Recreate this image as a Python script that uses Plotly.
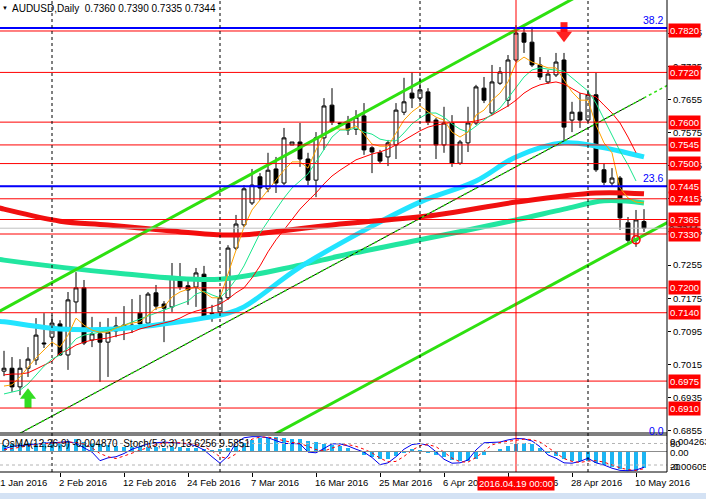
import plotly.graph_objects as go

# AUDUSD daily bars (MT4 feed, includes two short Sunday bars in March)
dates = [
    "2016-01-22", "2016-01-25", "2016-01-26", "2016-01-27", "2016-01-28", "2016-01-29",
    "2016-02-01", "2016-02-02", "2016-02-03", "2016-02-04", "2016-02-05", "2016-02-08",
    "2016-02-09", "2016-02-10", "2016-02-11", "2016-02-12", "2016-02-15", "2016-02-16",
    "2016-02-17", "2016-02-18", "2016-02-19", "2016-02-22", "2016-02-23", "2016-02-24",
    "2016-02-25", "2016-02-26", "2016-02-29", "2016-03-01", "2016-03-02", "2016-03-03",
    "2016-03-04", "2016-03-07", "2016-03-08", "2016-03-09", "2016-03-10", "2016-03-11",
    "2016-03-13", "2016-03-14", "2016-03-15", "2016-03-16", "2016-03-17", "2016-03-18",
    "2016-03-20", "2016-03-21", "2016-03-22", "2016-03-23", "2016-03-24", "2016-03-25",
    "2016-03-28", "2016-03-29", "2016-03-30", "2016-03-31", "2016-04-01", "2016-04-04",
    "2016-04-05", "2016-04-06", "2016-04-07", "2016-04-08", "2016-04-11", "2016-04-12",
    "2016-04-13", "2016-04-14", "2016-04-15", "2016-04-18", "2016-04-19", "2016-04-20",
    "2016-04-21", "2016-04-22", "2016-04-25", "2016-04-26", "2016-04-27", "2016-04-28",
    "2016-04-29", "2016-05-02", "2016-05-03", "2016-05-04", "2016-05-05", "2016-05-06",
    "2016-05-09", "2016-05-10", "2016-05-11",
]
opens = [
    0.6999, 0.7006, 0.6961, 0.7006, 0.7026, 0.7067, 0.7081, 0.7113, 0.7038, 0.7166,
    0.7200, 0.7074, 0.7089, 0.7069, 0.7096, 0.7110, 0.7106, 0.7139, 0.7115, 0.7188,
    0.7161, 0.7154, 0.7224, 0.7205, 0.7202, 0.7233, 0.7137, 0.7142, 0.7176, 0.7296,
    0.7352, 0.7405, 0.7468, 0.7439, 0.7487, 0.7453, 0.7545, 0.7552, 0.7511, 0.7460,
    0.7562, 0.7641, 0.7598, 0.7598, 0.7583, 0.7615, 0.7538, 0.7526, 0.7516, 0.7545,
    0.7624, 0.7670, 0.7658, 0.7673, 0.7605, 0.7545, 0.7598, 0.7501, 0.7550, 0.7598,
    0.7682, 0.7622, 0.7694, 0.7653, 0.7750, 0.7815, 0.7793, 0.7738, 0.7697, 0.7714,
    0.7750, 0.7605, 0.7624, 0.7605, 0.7666, 0.7485, 0.7453, 0.7465, 0.7357, 0.7315,
    0.7360,
]
highs = [
    0.7048, 0.7033, 0.7028, 0.7057, 0.7127, 0.7139, 0.7134, 0.7122, 0.7190, 0.7238,
    0.7219, 0.7130, 0.7118, 0.7127, 0.7130, 0.7156, 0.7173, 0.7183, 0.7190, 0.7207,
    0.7168, 0.7260, 0.7260, 0.7226, 0.7248, 0.7253, 0.7159, 0.7195, 0.7303, 0.7376,
    0.7448, 0.7487, 0.7477, 0.7526, 0.7516, 0.7586, 0.7552, 0.7598, 0.7526, 0.7576,
    0.7658, 0.7682, 0.7600, 0.7615, 0.7629, 0.7646, 0.7542, 0.7533, 0.7557, 0.7646,
    0.7707, 0.7721, 0.7707, 0.7682, 0.7610, 0.7637, 0.7617, 0.7557, 0.7637, 0.7690,
    0.7709, 0.7738, 0.7733, 0.7762, 0.7834, 0.7827, 0.7830, 0.7757, 0.7726, 0.7767,
    0.7767, 0.7649, 0.7670, 0.7678, 0.7719, 0.7501, 0.7489, 0.7470, 0.7371, 0.7388,
    0.7390,
]
lows = [
    0.6987, 0.6949, 0.6941, 0.6985, 0.7014, 0.7055, 0.7057, 0.7036, 0.7002, 0.7139,
    0.7062, 0.7057, 0.6973, 0.6985, 0.7081, 0.7074, 0.7091, 0.7106, 0.7106, 0.7147,
    0.7069, 0.7142, 0.7195, 0.7159, 0.7154, 0.7127, 0.7118, 0.7139, 0.7171, 0.7291,
    0.7347, 0.7400, 0.7412, 0.7431, 0.7429, 0.7448, 0.7545, 0.7492, 0.7448, 0.7419,
    0.7533, 0.7593, 0.7593, 0.7569, 0.7569, 0.7521, 0.7477, 0.7499, 0.7494, 0.7511,
    0.7617, 0.7634, 0.7649, 0.7593, 0.7511, 0.7526, 0.7492, 0.7497, 0.7528, 0.7593,
    0.7646, 0.7617, 0.7690, 0.7637, 0.7745, 0.7767, 0.7733, 0.7702, 0.7692, 0.7709,
    0.7550, 0.7576, 0.7586, 0.7600, 0.7480, 0.7448, 0.7446, 0.7340, 0.7308, 0.7299,
    0.7335,
]
closes = [
    0.7006, 0.6961, 0.7006, 0.7028, 0.7086, 0.7065, 0.7115, 0.7038, 0.7171, 0.7200,
    0.7067, 0.7089, 0.7069, 0.7093, 0.7108, 0.7106, 0.7110, 0.7113, 0.7185, 0.7156,
    0.7151, 0.7224, 0.7202, 0.7195, 0.7236, 0.7127, 0.7139, 0.7176, 0.7296, 0.7354,
    0.7439, 0.7448, 0.7441, 0.7484, 0.7453, 0.7562, 0.7552, 0.7511, 0.7460, 0.7562,
    0.7639, 0.7600, 0.7596, 0.7581, 0.7612, 0.7533, 0.7528, 0.7506, 0.7550, 0.7629,
    0.7649, 0.7658, 0.7678, 0.7600, 0.7545, 0.7598, 0.7501, 0.7552, 0.7598, 0.7685,
    0.7653, 0.7697, 0.7721, 0.7750, 0.7815, 0.7793, 0.7738, 0.7709, 0.7716, 0.7745,
    0.7588, 0.7624, 0.7605, 0.7666, 0.7485, 0.7455, 0.7465, 0.7369, 0.7315, 0.7364,
    0.7344,
]

# thin moving averages, one value per bar
ma_orange = [
    0.6963, 0.6966, 0.6985, 0.7009, 0.7031, 0.7050, 0.7069, 0.7057, 0.7086, 0.7127,
    0.7110, 0.7098, 0.7093, 0.7093, 0.7103, 0.7110, 0.7115, 0.7118, 0.7134, 0.7151,
    0.7154, 0.7178, 0.7190, 0.7197, 0.7202, 0.7188, 0.7176, 0.7176, 0.7231, 0.7291,
    0.7347, 0.7388, 0.7412, 0.7436, 0.7460, 0.7484, 0.7504, 0.7504, 0.7489, 0.7533,
    0.7571, 0.7586, 0.7583, 0.7583, 0.7591, 0.7571, 0.7547, 0.7542, 0.7542, 0.7574,
    0.7605, 0.7625, 0.7639, 0.7625, 0.7612, 0.7605, 0.7576, 0.7564, 0.7576, 0.7617,
    0.7629, 0.7653, 0.7670, 0.7697, 0.7743, 0.7757, 0.7745, 0.7738, 0.7731, 0.7731,
    0.7702, 0.7673, 0.7653, 0.7653, 0.7593, 0.7550, 0.7526, 0.7441, 0.7417, 0.7407,
    0.7405,
]
ma_green = [
    0.6944, 0.6949, 0.6953, 0.6968, 0.6990, 0.7011, 0.7028, 0.7038, 0.7055, 0.7077,
    0.7086, 0.7089, 0.7093, 0.7098, 0.7103, 0.7110, 0.7118, 0.7125, 0.7132, 0.7139,
    0.7147, 0.7154, 0.7161, 0.7168, 0.7185, 0.7192, 0.7183, 0.7176, 0.7195, 0.7221,
    0.7253, 0.7294, 0.7332, 0.7361, 0.7390, 0.7417, 0.7441, 0.7458, 0.7475, 0.7504,
    0.7535, 0.7564, 0.7581, 0.7581, 0.7586, 0.7576, 0.7571, 0.7559, 0.7555, 0.7555,
    0.7574, 0.7596, 0.7610, 0.7622, 0.7622, 0.7612, 0.7596, 0.7583, 0.7576, 0.7591,
    0.7605, 0.7620, 0.7634, 0.7658, 0.7685, 0.7709, 0.7726, 0.7731, 0.7728, 0.7726,
    0.7723, 0.7707, 0.7690, 0.7675, 0.7646, 0.7608, 0.7569, 0.7530, 0.7497, 0.7458,
]
ma_red = [
    0.6990, 0.6992, 0.6992, 0.6995, 0.7004, 0.7014, 0.7023, 0.7043, 0.7050, 0.7062,
    0.7069, 0.7074, 0.7077, 0.7079, 0.7084, 0.7089, 0.7093, 0.7101, 0.7106, 0.7110,
    0.7115, 0.7120, 0.7127, 0.7137, 0.7144, 0.7149, 0.7154, 0.7161, 0.7173, 0.7188,
    0.7200, 0.7224, 0.7253, 0.7287, 0.7316, 0.7340, 0.7364, 0.7390, 0.7410, 0.7429,
    0.7451, 0.7470, 0.7484, 0.7497, 0.7509, 0.7516, 0.7523, 0.7528, 0.7535, 0.7545,
    0.7557, 0.7569, 0.7579, 0.7588, 0.7593, 0.7596, 0.7600, 0.7600, 0.7600, 0.7603,
    0.7608, 0.7617, 0.7627, 0.7639, 0.7653, 0.7670, 0.7682, 0.7690, 0.7694, 0.7697,
    0.7692, 0.7680, 0.7670, 0.7666, 0.7661, 0.7641, 0.7622, 0.7598, 0.7564, 0.7526,
]

# slow moving averages, read at a few bars (bar index, price)
ma200_bars = [-1, 0, 7, 13, 21, 27, 30, 41, 54, 64, 74, 80]
ma200_vals = [0.7395, 0.7390, 0.7361, 0.7352, 0.7337, 0.7328, 0.7328, 0.7352, 0.7376, 0.7407, 0.7429, 0.7427]
ma100_bars = [-1, 0, 14, 27, 37, 42, 52, 64, 70, 75, 80]
ma100_vals = [0.7270, 0.7267, 0.7236, 0.7221, 0.7255, 0.7277, 0.7316, 0.7364, 0.7390, 0.7410, 0.7405]
ma50_bars = [-1, 0, 7, 14, 22, 28, 30, 37, 46, 52, 59, 64, 70, 74, 80]
ma50_vals = [0.7119, 0.7118, 0.7101, 0.7101, 0.7118, 0.7139, 0.7154, 0.7250, 0.7349, 0.7407,
             0.7458, 0.7516, 0.7550, 0.7542, 0.7516]

# drawn objects
levels = [0.7820, 0.7720, 0.7600, 0.7545, 0.7500, 0.7445, 0.7415, 0.7365, 0.7330,
          0.7200, 0.7140, 0.6975, 0.6910]
fib_labels = ["38.2", "23.6", "0.0"]
fib_prices = [0.7827, 0.7445, 0.6855]
last_price = 0.7344
upper_channel = ([-1, 74], [0.7139, 0.7928])
lower_channel = ([33, 84], [0.6838, 0.7369])
mid_trend = ([2, 84], [0.6849, 0.7700])
month_starts = ["2016-02-01", "2016-03-01", "2016-04-01", "2016-05-02"]
cursor_date = "2016-04-19"
buy_signal = ("2016-01-27", 0.6958)
sell_signal = ("2016-04-27", 0.7793)
touch_point = ("2016-05-10", 0.7316)

tick_dates = ["2016-01-21", "2016-02-02", "2016-02-12", "2016-02-24", "2016-03-07", "2016-03-16",
              "2016-03-25", "2016-04-06", "2016-04-18", "2016-04-28", "2016-05-10"]
tick_labels = ["21 Jan 2016", "2 Feb 2016", "12 Feb 2016", "24 Feb 2016", "7 Mar 2016", "16 Mar 2016",
               "25 Mar 2016", "6 Apr 2016", "18 Apr 2016", "28 Apr 2016", "10 May 2016"]
price_ticks = [0.6855, 0.6935, 0.7015, 0.7095, 0.7175, 0.7255, 0.7335, 0.7415, 0.7495,
               0.7575, 0.7655, 0.7735, 0.7815]

# OsMA(12,26,9) histogram and Stoch(5,3,3)
osma = [
    0.0020, 0.0022, 0.0024, 0.0025, 0.0026, 0.0027, 0.0027, 0.0026, 0.0030, 0.0036,
    0.0027, 0.0024, 0.0021, 0.0019, 0.0016, 0.0013, 0.0012, 0.0012, 0.0013, 0.0012,
    0.0010, 0.0012, 0.0013, 0.0011, 0.0010, 0.0007, 0.0005, 0.0006, 0.0010, 0.0017,
    0.0025, 0.0033, 0.0039, 0.0041, 0.0042, 0.0040, 0.0037, 0.0036, 0.0032, 0.0027,
    0.0023, 0.0019, 0.0015, 0.0010, 0.0001, -0.0010, -0.0017, -0.0023, -0.0023, -0.0013,
    -0.0003, 0.0007, 0.0005, -0.0005, -0.0011, -0.0017, -0.0025, -0.0028, -0.0027, -0.0021,
    -0.0010, -0.0001, 0.0008, 0.0015, 0.0022, 0.0025, 0.0022, 0.0010, -0.0003, -0.0013,
    -0.0023, -0.0027, -0.0028, -0.0027, -0.0035, -0.0040, -0.0045, -0.0052, -0.0056, -0.0058,
    -0.0049,
]
stoch_main = [
    65, 72, 74, 77, 80, 81, 82, 84, 85, 80, 69, 56, 32, 40, 43, 52, 64, 71, 79, 82,
    84, 82, 80, 79, 73, 62, 43, 25, 45, 82, 96, 99, 99, 96, 88, 80, 80, 79, 56, 54,
    66, 79, 79, 73, 64, 56, 41, 21, 26, 43, 64, 77, 80, 75, 57, 36, 25, 26, 34, 62,
    82, 83, 84, 90, 94, 93, 87, 71, 48, 39, 26, 25, 30, 39, 26, 20, 11, 5, 4, 6,
    13.6,
]
stoch_signal = [
    62, 66, 70, 74, 77, 79, 81, 82, 84, 83, 78, 68, 52, 43, 38, 45, 53, 62, 71, 77,
    81, 83, 82, 80, 77, 71, 59, 43, 38, 51, 74, 92, 98, 98, 94, 88, 83, 80, 72, 63,
    59, 66, 75, 77, 72, 64, 54, 39, 29, 30, 44, 61, 74, 77, 71, 56, 39, 29, 28, 41,
    59, 76, 83, 86, 89, 92, 91, 84, 69, 53, 38, 30, 27, 31, 32, 28, 19, 12, 7, 5,
    9.6,
]
indicator_caption = "OsMA(12,26,9) -0.004870  Stoch(5,3,3) 13.6256 9.5851"
osma_scale = ["0.004263", "0.00", "-0.006051"]

FONT = "Liberation Sans"
RED = "#ff0000"
BLUE = "#0000ff"
X_RANGE = [-0.5, 82.875]
Y_RANGE = [0.68497, 0.78948]
PX = (Y_RANGE[1] - Y_RANGE[0]) / 433  # price per screen pixel in the main pane


def bar_of(d):
    # position of a date on the bar axis; the day before the first bar sits at -1
    return dates.index(d) if d in dates else -1


def to_paper(b):
    return (b - X_RANGE[0]) / (X_RANGE[1] - X_RANGE[0])


bars = list(range(len(dates)))
fig = go.Figure()

fig.add_trace(go.Candlestick(
    x=bars, open=opens, high=highs, low=lows, close=closes,
    increasing=dict(line=dict(color="black", width=1), fillcolor="white"),
    decreasing=dict(line=dict(color="black", width=1), fillcolor="black"),
    whiskerwidth=0, hoverinfo="skip",
))

for bx, vals, color in [(ma100_bars, ma100_vals, "#22e6a0"),
                        (ma50_bars, ma50_vals, "#22e4ff"),
                        (ma200_bars, ma200_vals, "#f01010")]:
    fig.add_trace(go.Scatter(x=bx, y=vals, mode="lines", line=dict(color=color, width=5, shape="spline"),
                             hoverinfo="skip"))

for vals, color in [(ma_red, RED), (ma_green, "#19e68c"), (ma_orange, "#ffa200")]:
    fig.add_trace(go.Scatter(x=bars[:len(vals)], y=vals, mode="lines", line=dict(color=color, width=1),
                             hoverinfo="skip"))

for xs, ys in [upper_channel, lower_channel]:
    fig.add_trace(go.Scatter(x=xs, y=ys, mode="lines", line=dict(color="#2ee010", width=3), hoverinfo="skip"))
# black part of the middle trend line stops at the last bar, the green dots run on
slope = (mid_trend[1][1] - mid_trend[1][0]) / (mid_trend[0][1] - mid_trend[0][0])
fig.add_trace(go.Scatter(x=[mid_trend[0][0], bars[-1]],
                         y=[mid_trend[1][0], mid_trend[1][0] + slope * (bars[-1] - mid_trend[0][0])],
                         mode="lines", line=dict(color="black", width=1), hoverinfo="skip"))
fig.add_trace(go.Scatter(x=mid_trend[0], y=mid_trend[1], mode="lines",
                         line=dict(color="#2ee010", width=1.5, dash="dot"), hoverinfo="skip"))

fig.add_trace(go.Scatter(x=[bar_of(touch_point[0])], y=[touch_point[1]], mode="markers",
                         marker=dict(symbol="circle-open", size=8, color=RED, line=dict(width=1.5)),
                         hoverinfo="skip"))

# MT4 style block arrows: triangle head at the signal price plus a short thick stem
for (d, tip), sign, color, sym in [(buy_signal, -1, "#33dd22", "triangle-up"),
                                   (sell_signal, 1, "#ff2020", "triangle-down")]:
    b = bar_of(d)
    fig.add_trace(go.Scatter(x=[b, b], y=[tip + sign * 9 * PX, tip + sign * 20 * PX], mode="lines",
                             line=dict(color=color, width=7), hoverinfo="skip"))
    fig.add_trace(go.Scatter(x=[b], y=[tip + sign * 7 * PX], mode="markers",
                             marker=dict(symbol=sym, size=14, color=color, line=dict(width=0)),
                             hoverinfo="skip"))

# indicator pane
fig.add_trace(go.Bar(x=bars, y=osma, yaxis="y2", width=0.4, marker=dict(color="#1cb4f2", line=dict(width=0)),
                     hoverinfo="skip"))
fig.add_trace(go.Scatter(x=bars, y=stoch_main, yaxis="y3", mode="lines",
                         line=dict(color="#0000ee", width=1), hoverinfo="skip"))
fig.add_trace(go.Scatter(x=bars, y=stoch_signal, yaxis="y3", mode="lines",
                         line=dict(color=RED, width=1, dash="dot"), hoverinfo="skip"))

shapes = []
for p in levels:
    shapes.append(dict(type="line", xref="paper", x0=0, x1=1, yref="y", y0=p, y1=p,
                       line=dict(color=RED, width=1)))
for p in fib_prices[:2]:
    shapes.append(dict(type="line", xref="paper", x0=0, x1=1, yref="y", y0=p, y1=p,
                       line=dict(color=BLUE, width=2)))
shapes.append(dict(type="line", xref="paper", x0=0, x1=1, yref="y", y0=last_price, y1=last_price,
                   line=dict(color="#c0c0c0", width=1)))
for d in month_starts:
    shapes.append(dict(type="line", xref="x", x0=bar_of(d), x1=bar_of(d), yref="paper", y0=0, y1=1,
                       line=dict(color="black", width=1, dash="3px,3px")))
shapes.append(dict(type="line", xref="x", x0=bar_of(cursor_date), x1=bar_of(cursor_date),
                   yref="paper", y0=0, y1=1, line=dict(color=RED, width=1)))
# indicator pane guides
shapes.append(dict(type="line", xref="paper", x0=0, x1=1, yref="y2", y0=0, y1=0,
                   line=dict(color="#8c8c8c", width=1)))
for lv in [80, 20]:
    shapes.append(dict(type="line", xref="paper", x0=0, x1=1, yref="y3", y0=lv, y1=lv,
                       line=dict(color="#b4b4b4", width=1, dash="3px,3px")))
# window frames
for yy in [39 / 472, 37 / 472, 0]:
    shapes.append(dict(type="line", xref="paper", x0=0, x1=1, yref="paper", y0=yy, y1=yy,
                       line=dict(color="black", width=1)))
shapes.append(dict(type="line", xref="paper", x0=1, x1=1, yref="paper", y0=0, y1=1,
                   line=dict(color="black", width=1)))
shapes.append(dict(type="rect", xref="paper", x0=0, x1=706 / 667, yref="paper", y0=-27 / 472, y1=-21 / 472,
                   fillcolor="#d4e2f4", line=dict(width=0)))

ann = []
small = dict(family=FONT, size=9.5, color="black")
# price tags on the right scale
ann.append(dict(xref="paper", x=1, xanchor="left", xshift=1, yref="y", y=last_price, text=f"{last_price:.4f}",
                showarrow=False, bgcolor="#c0c0c0", font=dict(family=FONT, size=9.5, color="black"), borderpad=0))
for p in levels:
    ann.append(dict(xref="paper", x=1, xanchor="left", xshift=1, yref="y", y=p, text=f"{p:.4f}",
                    showarrow=False, bgcolor=RED, font=dict(family=FONT, size=9.5, color="white"), borderpad=1))
for lab, p in zip(fib_labels, fib_prices):
    ann.append(dict(xref="paper", x=1, xanchor="right", xshift=-1, yref="y", y=p,
                    yanchor="middle" if lab == "0.0" else "bottom",
                    text=lab, showarrow=False, font=dict(family=FONT, size=10.5, color=BLUE)))
# date labels (left aligned at the tick, MT4 style)
for d, lab in zip(tick_dates, tick_labels):
    ann.append(dict(xref="paper", x=to_paper(bar_of(d)), xanchor="left", xshift=-3, yref="paper", y=0,
                    yanchor="top", yshift=-3, text=lab, showarrow=False, font=small))
ann.append(dict(xref="x", x=bar_of(cursor_date), xanchor="center", yref="paper", y=0, yanchor="top", yshift=-4,
                text=cursor_date.replace("-", ".") + " 00:00", showarrow=False, bgcolor=RED,
                font=dict(family=FONT, size=9.5, color="white"), borderpad=1))
# header texts
ann.append(dict(xref="paper", x=0, xanchor="left", xshift=0, yref="paper", y=1, yanchor="top", yshift=-3,
                text="▼", showarrow=False, font=dict(family=FONT, size=6, color="black")))
ann.append(dict(xref="paper", x=0, xanchor="left", xshift=10, yref="paper", y=1, yanchor="top", yshift=-1,
                text=f"AUDUSD,Daily  {opens[-1]:.4f} {highs[-1]:.4f} {lows[-1]:.4f} {closes[-1]:.4f}",
                showarrow=False, font=dict(family=FONT, size=10, color="black")))
ann.append(dict(xref="paper", x=0, xanchor="left", xshift=0, yref="paper", y=29 / 472, yanchor="middle",
                text=indicator_caption, showarrow=False, font=dict(family=FONT, size=10, color="black")))
# indicator scale labels (OsMA extremes with the stochastic 80/20 printed over them)
for txt, py in [(osma_scale[0], 31), ("80", 29), (osma_scale[1], 20), (osma_scale[2], 6), ("20", 6)]:
    ann.append(dict(xref="paper", x=1, xanchor="left", xshift=1, yref="paper", y=py / 472, yanchor="middle",
                    text=txt, showarrow=False, font=small))

fig.update_layout(
    width=706, height=499, margin=dict(l=0, r=39, t=0, b=27),
    paper_bgcolor="white", plot_bgcolor="white", showlegend=False,
    font=dict(family=FONT, size=10, color="black"),
    shapes=shapes, annotations=ann,
    xaxis=dict(range=X_RANGE, anchor="y2", showgrid=False, zeroline=False,
               rangeslider=dict(visible=False), tickvals=[bar_of(d) for d in tick_dates],
               ticks="outside", ticklen=4, tickcolor="black", showticklabels=False, fixedrange=True),
    yaxis=dict(domain=[39 / 472, 1], range=Y_RANGE, side="right", anchor="x",
               tickvals=price_ticks, ticktext=[f"{v:.4f}" for v in price_ticks], ticks="outside",
               ticklen=3, tickcolor="black", tickfont=small, showgrid=False, zeroline=False),
    yaxis2=dict(domain=[0, 37 / 472], range=[-0.00604, 0.00486], anchor="x", showticklabels=False,
                showgrid=False, zeroline=False),
    yaxis3=dict(overlaying="y2", range=[0.46, 103.7], anchor="x", visible=False),
    bargap=0,
)

# the page's default body margin would push the 706x499 figure off the window
fig.write_html("out.html", config={"displayModeBar": False},
               post_script="document.body.style.margin='0';")
